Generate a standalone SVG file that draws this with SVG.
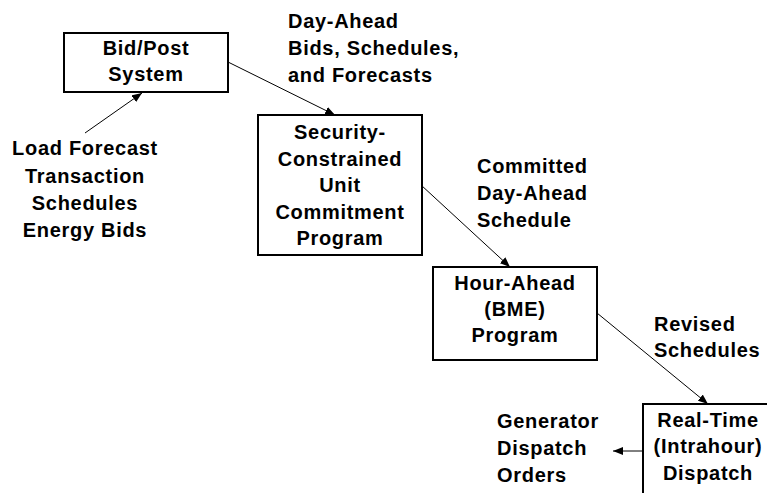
<svg xmlns="http://www.w3.org/2000/svg" width="767" height="493" viewBox="0 0 767 493">
<style>
.box{fill:#fff;stroke:#000;stroke-width:2}
.t{font-family:"Liberation Sans",Arial,sans-serif;font-weight:bold;font-size:20px;letter-spacing:0.7px;fill:#000}
.c{text-anchor:middle}
.conn{stroke:#000;stroke-width:1;fill:none;marker-end:url(#ah)}
</style>
<defs>
<marker id="ah" markerUnits="userSpaceOnUse" markerWidth="10" markerHeight="8" refX="10" refY="4" orient="auto">
<path d="M0,0 L10,4 L0,8 z" fill="#000"/>
</marker>
</defs>
<rect width="767" height="493" fill="#fff"/>
<g id="connectors">
<line class="conn" x1="85" y1="133" x2="142" y2="93"/>
<line class="conn" x1="228" y1="62" x2="335" y2="115"/>
<line class="conn" x1="421" y1="185" x2="510" y2="267"/>
<line class="conn" x1="597" y1="313" x2="708" y2="404"/>
<line class="conn" x1="643" y1="451" x2="613" y2="451"/>
</g>
<g id="bidpost">
<rect class="box" x="64" y="33" width="164" height="59"/>
<text class="t c" x="146" y="55">Bid/Post</text>
<text class="t c" x="146" y="81">System</text>
</g>
<g id="inputs">
<text class="t c" x="85" y="155">Load Forecast</text>
<text class="t c" x="85" y="182.5">Transaction</text>
<text class="t c" x="85" y="210">Schedules</text>
<text class="t c" x="85" y="237">Energy Bids</text>
</g>
<g id="dayahead-label">
<text class="t" x="288" y="27.5">Day-Ahead</text>
<text class="t" x="288" y="55">Bids, Schedules,</text>
<text class="t" x="288" y="82">and Forecasts</text>
</g>
<g id="scuc">
<rect class="box" x="258" y="115" width="164" height="140"/>
<text class="t c" x="340" y="139">Security-</text>
<text class="t c" x="340" y="165.5">Constrained</text>
<text class="t c" x="340" y="192">Unit</text>
<text class="t c" x="340" y="218.5">Commitment</text>
<text class="t c" x="340" y="245">Program</text>
</g>
<g id="committed-label">
<text class="t" x="477" y="173">Committed</text>
<text class="t" x="477" y="200">Day-Ahead</text>
<text class="t" x="477" y="227">Schedule</text>
</g>
<g id="hourahead">
<rect class="box" x="433" y="267" width="164" height="93"/>
<text class="t c" x="515" y="290">Hour-Ahead</text>
<text class="t c" x="515" y="316">(BME)</text>
<text class="t c" x="515" y="342">Program</text>
</g>
<g id="revised-label">
<text class="t" x="654" y="331">Revised</text>
<text class="t" x="654" y="357">Schedules</text>
</g>
<g id="realtime">
<rect class="box" x="643" y="404" width="140" height="110"/>
<text class="t c" x="708" y="427">Real-Time</text>
<text class="t c" x="708" y="453">(Intrahour)</text>
<text class="t c" x="708" y="480">Dispatch</text>
</g>
<g id="generator-label">
<text class="t" x="497" y="428">Generator</text>
<text class="t" x="497" y="455">Dispatch</text>
<text class="t" x="497" y="482">Orders</text>
</g>
</svg>
